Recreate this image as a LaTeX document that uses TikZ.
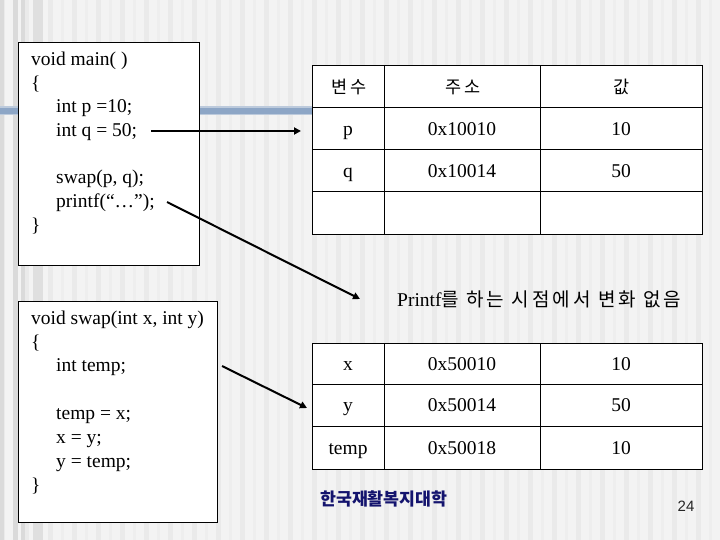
\documentclass[tikz,border=0pt]{standalone}
\usepackage{fontspec}
\setmainfont{Liberation Serif}
\newfontfamily\kr{Noto Sans CJK KR}
\newfontfamily\krw[LetterSpace=16]{Noto Sans CJK KR}
\newfontfamily\sansf{Liberation Sans}
\usetikzlibrary{arrows.meta}
\definecolor{bgbase}{HTML}{F3F3F3}
\definecolor{stripeA}{HTML}{EAEAEA}
\definecolor{stripeB}{HTML}{EEEEEE}
\definecolor{stripeL}{HTML}{DADADA}
\definecolor{barblue}{HTML}{8DA6C6}
\definecolor{barlight}{HTML}{BCCADC}
\definecolor{navy}{HTML}{14146E}
\begin{document}
\begin{tikzpicture}[x=1pt,y=-1pt,
  code/.style={anchor=base west, inner sep=0, font=\fontsize{19.5}{22}\selectfont},
  cell/.style={anchor=base, inner sep=0, font=\fontsize{19.5}{22}\selectfont},
  hcell/.style={anchor=base, inner sep=0, font=\krw\fontsize{17.5}{20}\selectfont},
  codebox/.style={draw=black, line width=0.8pt, fill=white, anchor=north west, inner sep=0},
  tline/.style={draw=black, line width=1pt},
  arr/.style={line width=2pt, -{Triangle[length=7pt,width=7pt]}}]
\useasboundingbox (0,0) rectangle (720,540);
% background
\fill[bgbase] (0,0) rectangle (720,540);
\foreach \x in {0,24,...,696} {
  \fill[stripeA] (\x,0) rectangle ++(5,540);
  \fill[stripeB] (\x+13,0) rectangle ++(3,540);
}
\fill[stripeL] (0,0) rectangle (4,540);
\fill[stripeL] (13,0) rectangle (18,540);
\fill[stripeL] (21,0) rectangle (25,540);
\fill[stripeL!70!stripeA] (33,0) rectangle (43,540);
% horizontal bar
\fill[barlight] (0,106.5) rectangle (312,115.5);
\fill[barblue] (0,108) rectangle (312,114);

% main box
\node[codebox, minimum width=181pt, minimum height=223pt] (mainbox) at (18,42) {};
\node[code] (m1) at (31,66) {void main( )};
\node[code] (m2) at (31,89.5) {\{};
\node[code] (m3) at (56,113) {int p =10;};
\node[code] (m4) at (56,136.5) {int q = 50;};
\node[code] (m5) at (56,184) {swap(p, q);};
\node[code] (m6) at (56,207.5) {printf(“…”);};
\node[code] (m7) at (31,231.5) {\}};

% swap box
\node[codebox, minimum width=199pt, minimum height=221pt] (swapbox) at (18,301) {};
\node[code] (s1) at (31,324) {void swap(int x, int y)};
\node[code] (s2) at (31,348) {\{};
\node[code] (s3) at (56,371.5) {int temp;};
\node[code] (s4) at (56,419) {temp = x;};
\node[code] (s5) at (56,443) {x = y;};
\node[code] (s6) at (56,467) {y = temp;};
\node[code] (s7) at (31,491) {\}};

% table 1
\fill[white] (312,66) rectangle (702,234);
\draw[tline] (312,66) rectangle (702,234);
\draw[tline] (312,108) -- (702,108) (312,150) -- (702,150) (312,192) -- (702,192);
\draw[tline] (384,66) -- (384,234) (540,66) -- (540,234);
\node[hcell] (h1) at (349,94) {변수};
\node[hcell] (h2) at (463,94) {주소};
\node[hcell] (h3) at (622,94) {값};
\node[cell] (p1) at (348,136) {p};
\node[cell] (p2) at (462,136) {0x10010};
\node[cell] (p3) at (621,136) {10};
\node[cell] (q1) at (348,178) {q};
\node[cell] (q2) at (462,178) {0x10014};
\node[cell] (q3) at (621,178) {50};

% note
\node[anchor=base west, inner sep=0] (note) at (397,306)
  {{\fontsize{19.5}{22}\selectfont Printf}{\krw\fontsize{19}{21}\selectfont 를 하는 시점에서 변화 없음}};

% table 2
\fill[white] (312,343) rectangle (702,469);
\draw[tline] (312,343) rectangle (702,469);
\draw[tline] (312,384) -- (702,384) (312,426) -- (702,426);
\draw[tline] (384,343) -- (384,469) (540,343) -- (540,469);
\node[cell] (x1) at (348,370) {x};
\node[cell] (x2) at (462,370) {0x50010};
\node[cell] (x3) at (621,370) {10};
\node[cell] (y1) at (348,411.5) {y};
\node[cell] (y2) at (462,411.5) {0x50014};
\node[cell] (y3) at (621,411.5) {50};
\node[cell] (t1) at (348,454) {temp};
\node[cell] (t2) at (462,454) {0x50018};
\node[cell] (t3) at (621,454) {10};

% arrows
\coordinate (a1s) at (151,131);
\coordinate (a1e) at (301,131);
\coordinate (a2s) at (167,202);
\coordinate (a2e) at (360,299);
\coordinate (a3s) at (222,366);
\coordinate (a3e) at (307,408);
\draw[arr] (a1s) -- (a1e);
\draw[arr] (a2s) -- (a2e);
\draw[arr] (a3s) -- (a3e);

% footer
\node[anchor=west, inner sep=0, text=navy, font=\kr\bfseries\fontsize{17.3}{19}\selectfont] (school) at (320,499) {한국재활복지대학};
\node[inner sep=0, text=black!85, font=\sansf\fontsize{15}{17}\selectfont] (pg) at (686,506) {24};
\end{tikzpicture}
\end{document}
